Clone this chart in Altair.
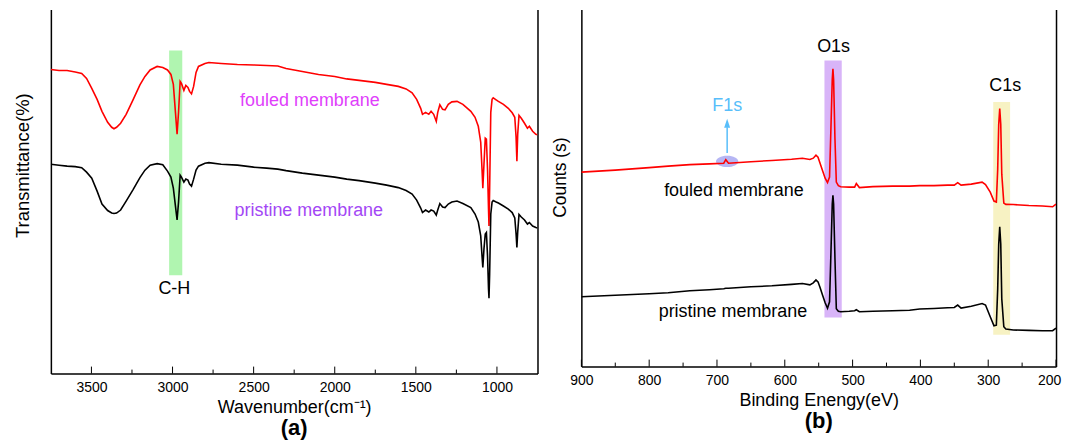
import altair as alt
import pandas as pd

# ---------------- Panel (a): FTIR ----------------
ftir_wavenumber = [3750, 3700, 3650, 3600, 3560, 3530, 3498, 3465, 3435, 3400, 3375, 3361, 3345, 3320,
                   3286, 3245, 3201, 3170, 3138, 3095, 3060, 3031, 3010, 2995, 2982, 2972, 2963, 2953,
                   2945, 2930, 2918, 2905, 2895, 2883, 2870, 2855, 2840, 2800, 2776, 2700, 2600, 2500,
                   2420, 2351, 2300, 2200, 2100, 2000, 1926, 1850, 1750, 1680, 1608, 1560, 1523, 1495,
                   1470, 1459, 1440, 1420, 1406, 1390, 1374, 1365, 1352, 1335, 1320, 1300, 1278, 1246,
                   1210, 1161, 1135, 1115, 1100, 1092, 1087, 1080, 1072, 1065, 1058, 1052, 1049, 1045,
                   1038, 1030, 1023, 1005, 991, 960, 930, 906, 890, 882, 877, 872, 864, 850, 830, 812,
                   800, 780, 760, 750]
ftir_fouled = [305, 304, 304, 302.5, 301, 296, 286, 275, 263, 252, 247, 245.5, 247, 251,
               260, 274, 289.5, 298, 304.5, 308, 307, 304.5, 300, 290, 262, 240, 262, 293,
               291, 284, 289, 287, 283, 280.5, 288, 302, 308, 311, 312, 311, 310, 309.5,
               309, 308.5, 306, 303, 300, 298, 295.5, 294, 292, 290, 288, 285.5, 281.5, 275,
               266, 260, 262, 260, 263, 260, 253, 262, 269.5, 265, 264.5, 270, 272.5, 273,
               270, 263, 257, 248, 232, 205, 186, 210, 236, 235, 205, 165, 148, 185,
               262, 275, 276.5, 274.5, 273, 270, 266, 261.5, 257, 237, 213, 240, 259, 256, 251, 246,
               248, 243, 240, 239.5]
ftir_pristine = [210, 209, 208, 207.5, 206.5, 202, 196, 183, 170, 163.5, 161, 160.5, 161, 164,
                 173, 184, 196.5, 204, 209, 210.5, 209.5, 203, 197, 186, 168, 154, 172, 199,
                 197, 192, 195, 194, 190, 188, 195, 204, 208, 211, 211.5, 210, 209, 207,
                 206, 205, 203.5, 201, 199, 197, 195, 193.5, 191, 189, 186.5, 183.5, 180, 174,
                 166, 161.5, 164, 162, 164, 163, 159, 164, 170.5, 167, 166.5, 170, 172, 173,
                 170.5, 166.5, 160, 152, 138, 118, 106.5, 125, 140, 141.5, 118, 85, 75.5, 100,
                 160, 172, 173.5, 172, 171, 168, 165, 161.5, 156, 140, 126.5, 142, 159.5, 157, 154, 150,
                 151.5, 148, 146.5, 146]
ftir_major_ticks = [3500, 3000, 2500, 2000, 1500, 1000]
ftir_minor_ticks = [3250, 2750, 2250, 1750, 1250]
ftir_band_x = [3021, 2940]
ftir_band_y = [98.7, 324]
ftir_labels = ["fouled membrane", "pristine membrane", "C-H"]
ftir_label_x = [2153, 2160, 2989]
ftir_label_y = [273, 163, 84.7]

# ---------------- Panel (b): XPS ----------------
xps_energy = [900, 850, 800, 772, 740, 711, 690, 687, 683, 650, 619, 590, 574, 563, 558, 554, 551,
              548, 544, 540.5, 537, 534, 532, 530, 529, 528, 526, 524, 521, 517.5, 505, 497, 494.5,
              490, 470, 441, 416, 401, 380, 360, 350, 345, 340, 325, 309, 304, 297, 291.5, 288, 286,
              284.5, 283, 281.5, 280, 277, 274, 263, 240, 220, 205, 200]
xps_fouled = [197, 199, 201.5, 203, 204.5, 205.3, 206, 209.5, 206, 207.5, 208.7, 210, 211, 209.7, 211, 214, 212,
              206, 198, 191, 186.5, 192, 240, 290, 300.7, 290, 230, 187, 183.5, 182.3, 182, 182, 185.5,
              181.5, 182.5, 183, 183, 183.5, 183.5, 184, 184, 186.5, 184, 185, 187, 184.5, 177, 168, 167, 200,
              245, 260.7, 245, 195, 166, 164.7, 164.5, 163.5, 163, 162.3, 165]
xps_pristine = [72, 73.5, 75, 76, 78, 79, 80, 80.5, 80.5, 82, 83, 84.5, 85.3, 84, 86, 89, 87,
                81.3, 73, 66, 60.5, 67, 115, 165, 173.7, 165, 110, 60, 57.5, 57, 57.5, 58, 59,
                57, 57.5, 58, 58.5, 59.7, 60.3, 61, 61.3, 63.7, 60.7, 62.5, 65.3, 63.7, 52, 43, 43.5, 80,
                125, 142.3, 125, 70, 42, 39.7, 38.7, 38.3, 38, 38, 40.7]
xps_major_ticks = [900, 800, 700, 600, 500, 400, 300, 200]
xps_minor_ticks = [850, 750, 650, 550, 450, 350, 250]
xps_bands = ["O1s", "C1s"]
xps_band_x1 = [541.5, 292.6]
xps_band_x2 = [516, 267.7]
xps_band_y1 = [51.3, 34]
xps_band_y2 = [309, 267.3]
xps_labels = ["O1s", "C1s", "F1s", "fouled membrane", "pristine membrane"]
xps_label_x = [528, 275, 685, 675, 676.5]
xps_label_y = [322.3, 283, 263, 178, 56.3]
f1s_arrow_x = [685]
f1s_arrow_y = [216.3, 242]
f1s_head_y = [246]
f1s_spot_x = [685]
f1s_spot_y = [207.8]

# ---------------- layout constants ----------------
W_A, H_A = 488, 365
W_B, H_B = 476, 358
FONT = "Liberation Sans"
SERIES = ["fouled membrane", "pristine membrane"]


def spectra_frame(x, fouled, pristine, xname):
    n = len(x)
    return pd.DataFrame({xname: list(x) * 2, "signal": list(fouled) + list(pristine),
                         "sample": [SERIES[0]] * n + [SERIES[1]] * n})


def main_x_axis(title, values, label_offset=0):
    return alt.Axis(title=title, values=values, format="d", ticks=False, tickSize=0, labelPadding=7,
                    labelFontSize=14, labelColor="black", labelFont=FONT, labelFlush=False,
                    labelOffset=label_offset,
                    titleFontSize=18, titleFontWeight="normal", titleColor="black", titleFont=FONT,
                    titlePadding=4, domainColor="black", domainWidth=1.5, grid=False)


def main_y_axis(title, size, pad, ty):
    return alt.Axis(title=title, labels=False, ticks=False, tickSize=0, grid=False,
                    domainColor="black", domainWidth=1.5, titleFontSize=size, titleFontWeight="normal",
                    titleColor="black", titleFont=FONT, titlePadding=pad, titleY=ty)


right_axis = alt.Axis(orient="right", labels=False, ticks=False, tickSize=0, title=None,
                      domainColor="black", domainWidth=1.5, grid=False)


def tick_layer(values, xscale, h, length):
    return alt.Chart(pd.DataFrame({"t": values})).mark_rule(color="black", strokeWidth=1).encode(
        x=alt.X("t:Q", scale=xscale, axis=None),
        y=alt.value(h), y2=alt.value(h - length))


# ---------------- Panel (a) ----------------
xa = alt.Scale(domain=[750, 3750], reverse=True, nice=False, zero=False)
ya = alt.Scale(domain=[0, H_A], nice=False, zero=False)

df_a = spectra_frame(ftir_wavenumber, ftir_fouled, ftir_pristine, "wavenumber")
band_a_df = pd.DataFrame({"x1": [ftir_band_x[0]], "x2": [ftir_band_x[1]],
                          "y1": [ftir_band_y[0]], "y2": [ftir_band_y[1]]})
text_a_df = pd.DataFrame({"label": ftir_labels, "x": ftir_label_x, "y": ftir_label_y})

band_a = alt.Chart(band_a_df).mark_rect(color="#b0f5b0").encode(
    x=alt.X("x1:Q", scale=xa, axis=None),
    x2="x2:Q",
    y=alt.Y("y1:Q", scale=ya, axis=right_axis),
    y2="y2:Q",
)
lines_a = alt.Chart(df_a).mark_line(strokeWidth=1.6, clip=True).encode(
    x=alt.X("wavenumber:Q", scale=xa, axis=main_x_axis("Wavenumber(cm⁻¹)", ftir_major_ticks)),
    y=alt.Y("signal:Q", scale=ya, axis=main_y_axis("Transmittance(%)", 18.5, 18, 156)),
    color=alt.Color("sample:N", scale=alt.Scale(domain=SERIES, range=["#ff0000", "#000000"]), legend=None),
)
text_a = alt.Chart(text_a_df).mark_text(fontSize=18, align="center", baseline="middle", font=FONT).encode(
    x=alt.X("x:Q", scale=xa, axis=None),
    y=alt.Y("y:Q", scale=ya, axis=None),
    text="label:N",
    color=alt.Color("label:N", scale=alt.Scale(domain=ftir_labels, range=["#e040fb", "#a347f5", "#000000"]),
                    legend=None),
)
panel_a = alt.layer(
    band_a, tick_layer(ftir_major_ticks, xa, H_A, 7), tick_layer(ftir_minor_ticks, xa, H_A, 4),
    lines_a, text_a
).resolve_axis(x="independent", y="independent").resolve_scale(color="independent").properties(
    width=W_A, height=H_A,
    title=alt.TitleParams("(a)", orient="bottom", anchor="middle", fontSize=22, fontWeight="bold",
                          color="black", font=FONT, offset=2))

# ---------------- Panel (b) ----------------
xb = alt.Scale(domain=[200, 900], reverse=True, nice=False, zero=False)
yb = alt.Scale(domain=[2, 2 + H_B], nice=False, zero=False)

df_b = spectra_frame(xps_energy, xps_fouled, xps_pristine, "energy")
band_b_df = pd.DataFrame({"band": xps_bands, "x1": xps_band_x1, "x2": xps_band_x2,
                          "y1": xps_band_y1, "y2": xps_band_y2})
text_b_df = pd.DataFrame({"label": xps_labels, "x": xps_label_x, "y": xps_label_y})
arrow_df = pd.DataFrame({"x": f1s_arrow_x, "y0": [f1s_arrow_y[0]], "y1": [f1s_arrow_y[1]], "yh": f1s_head_y})
spot_df = pd.DataFrame({"x": f1s_spot_x, "y": f1s_spot_y})

band_b = alt.Chart(band_b_df).mark_rect().encode(
    x=alt.X("x1:Q", scale=xb, axis=None),
    x2="x2:Q",
    y=alt.Y("y1:Q", scale=yb, axis=right_axis),
    y2="y2:Q",
    color=alt.Color("band:N", scale=alt.Scale(domain=xps_bands, range=["#d8b4f8", "#f7f2c3"]), legend=None),
)
spot_b = alt.Chart(spot_df).mark_point(
    shape="M-1,0 A1,0.5 0 1,1 1,0 A1,0.5 0 1,1 -1,0 Z", filled=True, size=500,
    color="#9d9df0", opacity=0.75, strokeWidth=0).encode(
    x=alt.X("x:Q", scale=xb, axis=None),
    y=alt.Y("y:Q", scale=yb, axis=None),
)
# keep the last label ("200") inside the page so the page never overflows its width
last_label_offset = {"condition": {"test": "datum.value == 200", "value": -7}, "value": 0}
lines_b = alt.Chart(df_b).mark_line(strokeWidth=1.6, clip=True).encode(
    x=alt.X("energy:Q", scale=xb, axis=main_x_axis("Binding Enengy(eV)", xps_major_ticks, last_label_offset)),
    y=alt.Y("signal:Q", scale=yb, axis=main_y_axis("Counts (s)", 17.5, 12, 168)),
    color=alt.Color("sample:N", scale=alt.Scale(domain=SERIES, range=["#ff0000", "#000000"]), legend=None),
)
arrow_b = alt.Chart(arrow_df).mark_rule(color="#58befa", strokeWidth=1.5).encode(
    x=alt.X("x:Q", scale=xb, axis=None),
    y=alt.Y("y0:Q", scale=yb, axis=None),
    y2="y1:Q",
)
head_b = alt.Chart(arrow_df).mark_point(shape="M0,-1 L0.667,1 L-0.667,1 Z", filled=True, size=81,
                                        color="#58befa", opacity=1, strokeWidth=0).encode(
    x=alt.X("x:Q", scale=xb, axis=None),
    y=alt.Y("yh:Q", scale=yb, axis=None),
)
text_b = alt.Chart(text_b_df).mark_text(fontSize=18, align="center", baseline="middle", font=FONT).encode(
    x=alt.X("x:Q", scale=xb, axis=None),
    y=alt.Y("y:Q", scale=yb, axis=None),
    text="label:N",
    color=alt.Color("label:N", scale=alt.Scale(domain=xps_labels,
                                               range=["#000000", "#000000", "#58befa", "#000000", "#000000"]),
                    legend=None),
)
panel_b = alt.layer(
    band_b, spot_b, tick_layer(xps_major_ticks, xb, H_B, 7), tick_layer(xps_minor_ticks, xb, H_B, 4),
    lines_b, arrow_b, head_b, text_b
).resolve_axis(x="independent", y="independent").resolve_scale(color="independent").properties(
    width=W_B, height=H_B,
    title=alt.TitleParams("(b)", orient="bottom", anchor="middle", fontSize=22, fontWeight="bold",
                          color="black", font=FONT, offset=2))

chart = alt.hconcat(panel_a, panel_b, spacing=44, bounds="flush").properties(
    padding={"left": 5, "top": 0, "right": 0, "bottom": 0}
).configure(font=FONT).configure_view(stroke="transparent")

chart.save("out.html", embed_options={"renderer": "svg", "actions": False})
